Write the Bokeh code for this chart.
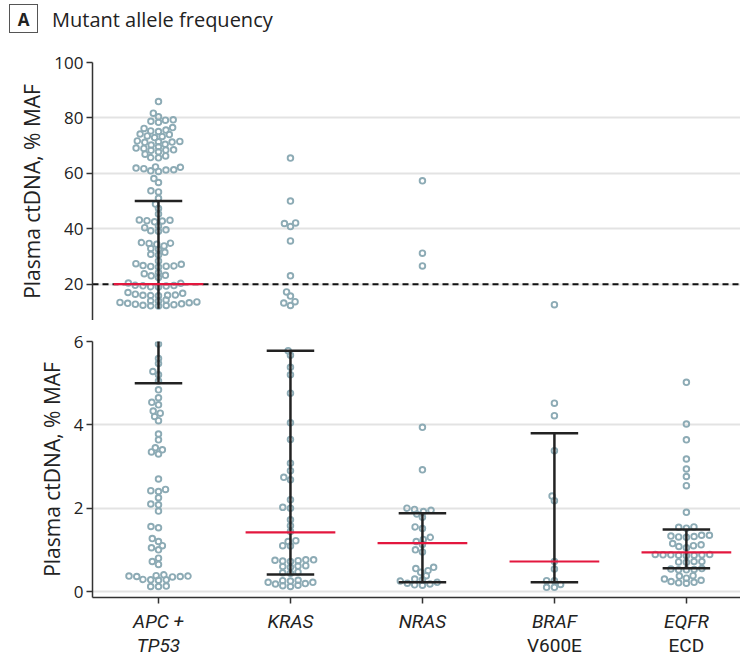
import numpy as np
from bokeh.plotting import figure
from bokeh.layouts import column
from bokeh.models import Range1d, FixedTicker, Span, ColumnDataSource, Div
from bokeh.embed import file_html
from bokeh.resources import INLINE
from bokeh.core.properties import value

# ---------------- data ----------------
categories = ["APC + TP53", "KRAS", "NRAS", "BRAF V600E", "EQFR ECD"]
label_line1 = ["APC +", "KRAS", "NRAS", "BRAF", "EQFR"]
label_line2 = ["TP53", "", "", "V600E", "ECD"]
label_line2_style = ["italic", "normal", "normal", "normal", "normal"]
panel_letter = "A"
title_text = "Mutant allele frequency"
y_title = "Plasma ctDNA, % MAF"

apc = [85.9, 81.7, 80.4, 79.2, 78.4, 78.8, 79.3, 76.5, 75.6, 75.1, 75.3, 76.2,
       74.2, 73.3, 73.5, 74.0, 72.9, 71.4, 71.3, 71.5, 71.2, 71.7, 70.5, 70.2,
       69.0, 69.1, 69.6, 67.8, 68.4, 68.3, 68.5, 66.9, 66.3, 65.7, 65.6,
       62.3, 61.9, 61.3, 60.9, 60.7, 61.2, 61.7, 62.2, 58.1, 56.7, 53.7, 53.3,
       51.0, 48.9, 47.3, 45.3, 43.2, 42.9, 42.8, 42.5, 43.1, 41.0, 39.6, 39.1,
       39.3, 40.4, 34.8, 33.8, 35.0, 32.9, 34.4, 34.7, 32.6, 30.8, 31.5, 30.5,
       27.2, 26.6, 26.2, 26.5, 26.4, 26.7, 27.4, 28.4, 23.8, 23.2, 22.4, 23.0,
       24.2, 20.4, 19.4, 19.3, 19.5, 19.6, 19.1, 19.0, 20.3, 16.4, 16.0, 16.1,
       15.8, 15.9, 16.0, 16.7, 17.0, 14.0, 13.6, 13.4, 13.1, 12.8, 12.4, 12.2,
       12.1, 12.3, 12.6, 12.9, 13.3, 13.9, 14.3,
       5.94, 5.59, 5.47, 5.28, 5.20, 5.05, 4.84, 4.65, 4.54, 4.48, 4.33, 4.28,
       4.20, 4.10, 3.78, 3.64, 3.45, 3.40, 3.35, 3.30, 2.70, 2.45, 2.42, 2.40,
       2.25, 2.10, 2.08, 1.93, 1.56, 1.53, 1.27, 1.20, 1.10, 1.05, 1.00, 0.80,
       0.72, 0.65, 0.38, 0.37, 0.36, 0.35, 0.36, 0.37, 0.40, 0.29, 0.28, 0.27,
       0.28, 0.13, 0.12, 0.12]
kras = [65.5, 50.0, 41.9, 40.8, 42.1, 35.6, 23.0, 17.2, 15.7, 13.7, 13.2, 12.3,
        5.78, 5.67, 5.38, 5.20, 4.76, 4.05, 3.65, 3.08, 2.90, 2.74, 2.68, 2.20,
        2.02, 2.00, 1.72, 1.58, 1.44, 1.22, 1.20, 1.10, 1.09, 0.76, 0.74, 0.72,
        0.75, 0.73, 0.76, 0.62, 0.60, 0.58, 0.61, 0.47, 0.45, 0.44, 0.27, 0.25,
        0.22, 0.19, 0.15, 0.12, 0.14, 0.18, 0.22, 0.26]
nras = [57.3, 31.2, 26.6, 3.94, 2.92, 2.00, 1.97, 1.95, 1.92, 1.86, 1.78, 1.55,
        1.51, 1.30, 1.25, 1.20, 1.13, 1.00, 0.95, 0.58, 0.55, 0.50, 0.46, 0.38,
        0.30, 0.28, 0.25, 0.22, 0.20, 0.18, 0.16, 0.15]
braf = [12.6, 4.52, 4.22, 3.38, 2.29, 2.18, 0.72, 0.54, 0.26, 0.26, 0.17, 0.10, 0.10]
egfr = [5.02, 4.02, 3.64, 3.18, 2.94, 2.76, 2.54, 1.90, 1.55, 1.52, 1.54, 1.35,
        1.30, 1.32, 1.33, 1.31, 1.35, 1.10, 1.12, 1.05, 1.08, 1.15, 0.88, 0.87,
        0.88, 0.89, 0.86, 0.88, 0.87, 0.89, 0.72, 0.71, 0.72, 0.70, 0.52, 0.53,
        0.52, 0.54, 0.55, 0.38, 0.32, 0.27, 0.22, 0.20, 0.21, 0.24, 0.30, 0.37]
series = [apc, kras, nras, braf, egfr]

medians = [20.0, 1.42, 1.16, 0.72, 0.94]
q1 = [5.0, 0.41, 0.22, 0.22, 0.56]
q3 = [50.0, 5.78, 1.88, 3.80, 1.49]

top_ticks = [20, 40, 60, 80, 100]
bottom_ticks = [0, 2, 4, 6]
threshold = 20
split_value = 6

# ---------------- style / layout ----------------
W = 740
LEFT = 92
X_LO, X_HI = -0.5, 4.41
PX_X = (W - LEFT) / (X_HI - X_LO)
HEADER_H = 50
TOP_BORDER_T = 12
TOP_FRAME_H = 258
TOP_RANGE = (100.0 - TOP_FRAME_H / 2.771, 100.0)
BOT_BORDER_T = 21
BOT_FRAME_H = 256
BOT_BORDER_B = 12
BOT_RANGE = (-0.144, 6.0)

FONT = "Open Sans"
XFONT = "Roboto"
DOT = "#8dabb5"
RED = "#e3173e"
INK = "#222222"
AXIS = "#333333"
GRID = "#e3e3e3"
CAP = 0.18
MED = 0.34


def swarm(vals, px_per_unit, dx_min=7.8, dy_min=4.8):
    """Beeswarm offsets (pixels) using an elliptical exclusion zone."""
    vals = np.asarray(vals, dtype=float)
    xs = np.zeros(len(vals))
    placed = []
    for i in np.argsort(vals, kind="stable"):
        y = vals[i] * px_per_unit
        near = [(px, py) for px, py in placed if abs(py - y) < dy_min]
        cands = [0.0]
        for px, py in near:
            dx = dx_min * np.sqrt(1 - ((py - y) / dy_min) ** 2)
            cands += [px + dx, px - dx]
        cands.sort(key=lambda c: (round(abs(c), 6), c))
        for c in cands:
            if all(((c - px) / dx_min) ** 2 + ((y - py) / dy_min) ** 2 >= 1 - 1e-6
                   for px, py in near):
                xs[i] = c
                break
        placed.append((xs[i], y))
    return xs


xr = Range1d(X_LO, X_HI)


def style_yaxis(p, ticks):
    ax = p.yaxis[0]
    ax.ticker = FixedTicker(ticks=ticks)
    ax.axis_label = y_title
    ax.axis_label_text_font = FONT
    ax.axis_label_text_font_size = "21px"
    ax.axis_label_text_font_style = "normal"
    ax.axis_label_text_color = INK
    ax.axis_label_standoff = 5
    ax.major_label_text_font = FONT
    ax.major_label_text_font_size = "17px"
    ax.major_label_text_color = INK
    ax.major_label_standoff = 3
    ax.major_tick_in = 0
    ax.major_tick_out = 6
    ax.minor_tick_in = 0
    ax.minor_tick_out = 0
    ax.axis_line_color = AXIS
    ax.axis_line_width = 1.5
    ax.major_tick_line_color = AXIS
    ax.major_tick_line_width = 1.5
    p.ygrid.grid_line_color = GRID
    p.ygrid.grid_line_width = 2
    p.ygrid.ticker = FixedTicker(ticks=ticks)
    p.xgrid.visible = False
    p.outline_line_color = None


def draw_panel(p, yrange, frame_h, upper):
    ppu = frame_h / (yrange[1] - yrange[0])
    low_ends = list(q1)
    for k, vals in enumerate(series):
        v = np.asarray(vals, dtype=float)
        v = v[v > split_value] if upper else v[v <= split_value]
        if len(v) == 0:
            continue
        if upper and q3[k] > split_value:
            # in the upper (broken-axis) panel the whisker stops just below the lowest dot
            low_ends[k] = max(q1[k], v.min() - 1.0)
        xs = k + swarm(v, ppu) / PX_X
        p.scatter(x=xs, y=v, marker="circle", size=5.6, line_width=1.9,
                  line_color=DOT, fill_alpha=0)
    idx = np.arange(len(categories), dtype=float)
    p.segment(x0=idx, y0=low_ends, x1=idx, y1=q3, line_color=INK, line_width=2.5)
    p.segment(x0=idx - CAP, y0=q1, x1=idx + CAP, y1=q1, line_color=INK, line_width=2.5)
    p.segment(x0=idx - CAP, y0=q3, x1=idx + CAP, y1=q3, line_color=INK, line_width=2.5)
    p.segment(x0=idx - MED, y0=medians, x1=idx + MED, y1=medians, line_color=RED, line_width=2.2)


# ---------------- header ----------------
header_html = (
    '<div style="position:relative;width:%dpx;height:%dpx;font-family:\'Open Sans\';color:%s;">'
    '<div style="position:absolute;left:9px;top:4px;width:29px;height:29px;'
    'border:1.5px solid #555555;font-weight:bold;font-size:17px;line-height:29px;'
    'text-align:center;">%s</div>'
    '<div style="position:absolute;left:52px;top:4px;font-size:20px;line-height:32px;'
    'white-space:nowrap;">%s</div></div>'
) % (W, HEADER_H, INK, panel_letter, title_text)
header = Div(text=header_html, width=W, height=HEADER_H, margin=(0, 0, 0, 0))

# ---------------- top panel ----------------
top = figure(width=W, height=TOP_BORDER_T + TOP_FRAME_H, x_range=xr,
             y_range=Range1d(*TOP_RANGE), toolbar_location=None, output_backend="svg",
             min_border_left=LEFT, min_border_right=0, min_border_top=TOP_BORDER_T,
             min_border_bottom=0, x_axis_location=None)
style_yaxis(top, top_ticks)
top.add_layout(Span(location=threshold, dimension="width", line_color="#111111",
                    line_dash="6 4", line_width=2, level="underlay"))
draw_panel(top, TOP_RANGE, TOP_FRAME_H, True)

# ---------------- bottom panel ----------------
bottom = figure(width=W, height=BOT_BORDER_T + BOT_FRAME_H + BOT_BORDER_B, x_range=xr,
                y_range=Range1d(*BOT_RANGE), toolbar_location=None, output_backend="svg",
                min_border_left=LEFT, min_border_right=0, min_border_top=BOT_BORDER_T,
                min_border_bottom=BOT_BORDER_B)
style_yaxis(bottom, bottom_ticks)
xa = bottom.xaxis[0]
xa.ticker = FixedTicker(ticks=list(range(len(categories))))
xa.major_label_overrides = {i: "" for i in range(len(categories))}
xa.major_label_text_font_size = "0px"
xa.major_label_standoff = 0
xa.major_tick_in = 0
xa.major_tick_out = 6
xa.minor_tick_in = 0
xa.minor_tick_out = 0
xa.axis_line_color = AXIS
xa.axis_line_width = 1.5
xa.major_tick_line_color = AXIS
xa.major_tick_line_width = 1.5
draw_panel(bottom, BOT_RANGE, BOT_FRAME_H, False)

# ---------------- category labels ----------------
LAB_H = 659 - HEADER_H - (TOP_BORDER_T + TOP_FRAME_H) - (BOT_BORDER_T + BOT_FRAME_H + BOT_BORDER_B)
labels = figure(width=W, height=LAB_H, x_range=xr, y_range=Range1d(LAB_H, 0),
                toolbar_location=None, output_backend="svg", min_border_left=LEFT,
                min_border_right=0, min_border_top=0, min_border_bottom=0,
                x_axis_location=None, y_axis_location=None)
labels.grid.visible = False
labels.outline_line_color = None
src1 = ColumnDataSource(dict(x=list(range(len(categories))), y=[12] * len(categories),
                             t=label_line1))
src2 = ColumnDataSource(dict(x=list(range(len(categories))), y=[36] * len(categories),
                             t=label_line2, s=label_line2_style))
labels.text(x="x", y="y", text="t", source=src1, text_font=value(XFONT),
            text_font_size="19px", text_font_style="italic", text_align="center",
            text_baseline="middle", text_color=INK)
labels.text(x="x", y="y", text="t", source=src2, text_font=value(XFONT),
            text_font_size="19px", text_font_style="s", text_align="center",
            text_baseline="middle", text_color=INK)

layout = column(header, top, bottom, labels, spacing=0)
open("out.html", "w").write(file_html(layout, INLINE))
